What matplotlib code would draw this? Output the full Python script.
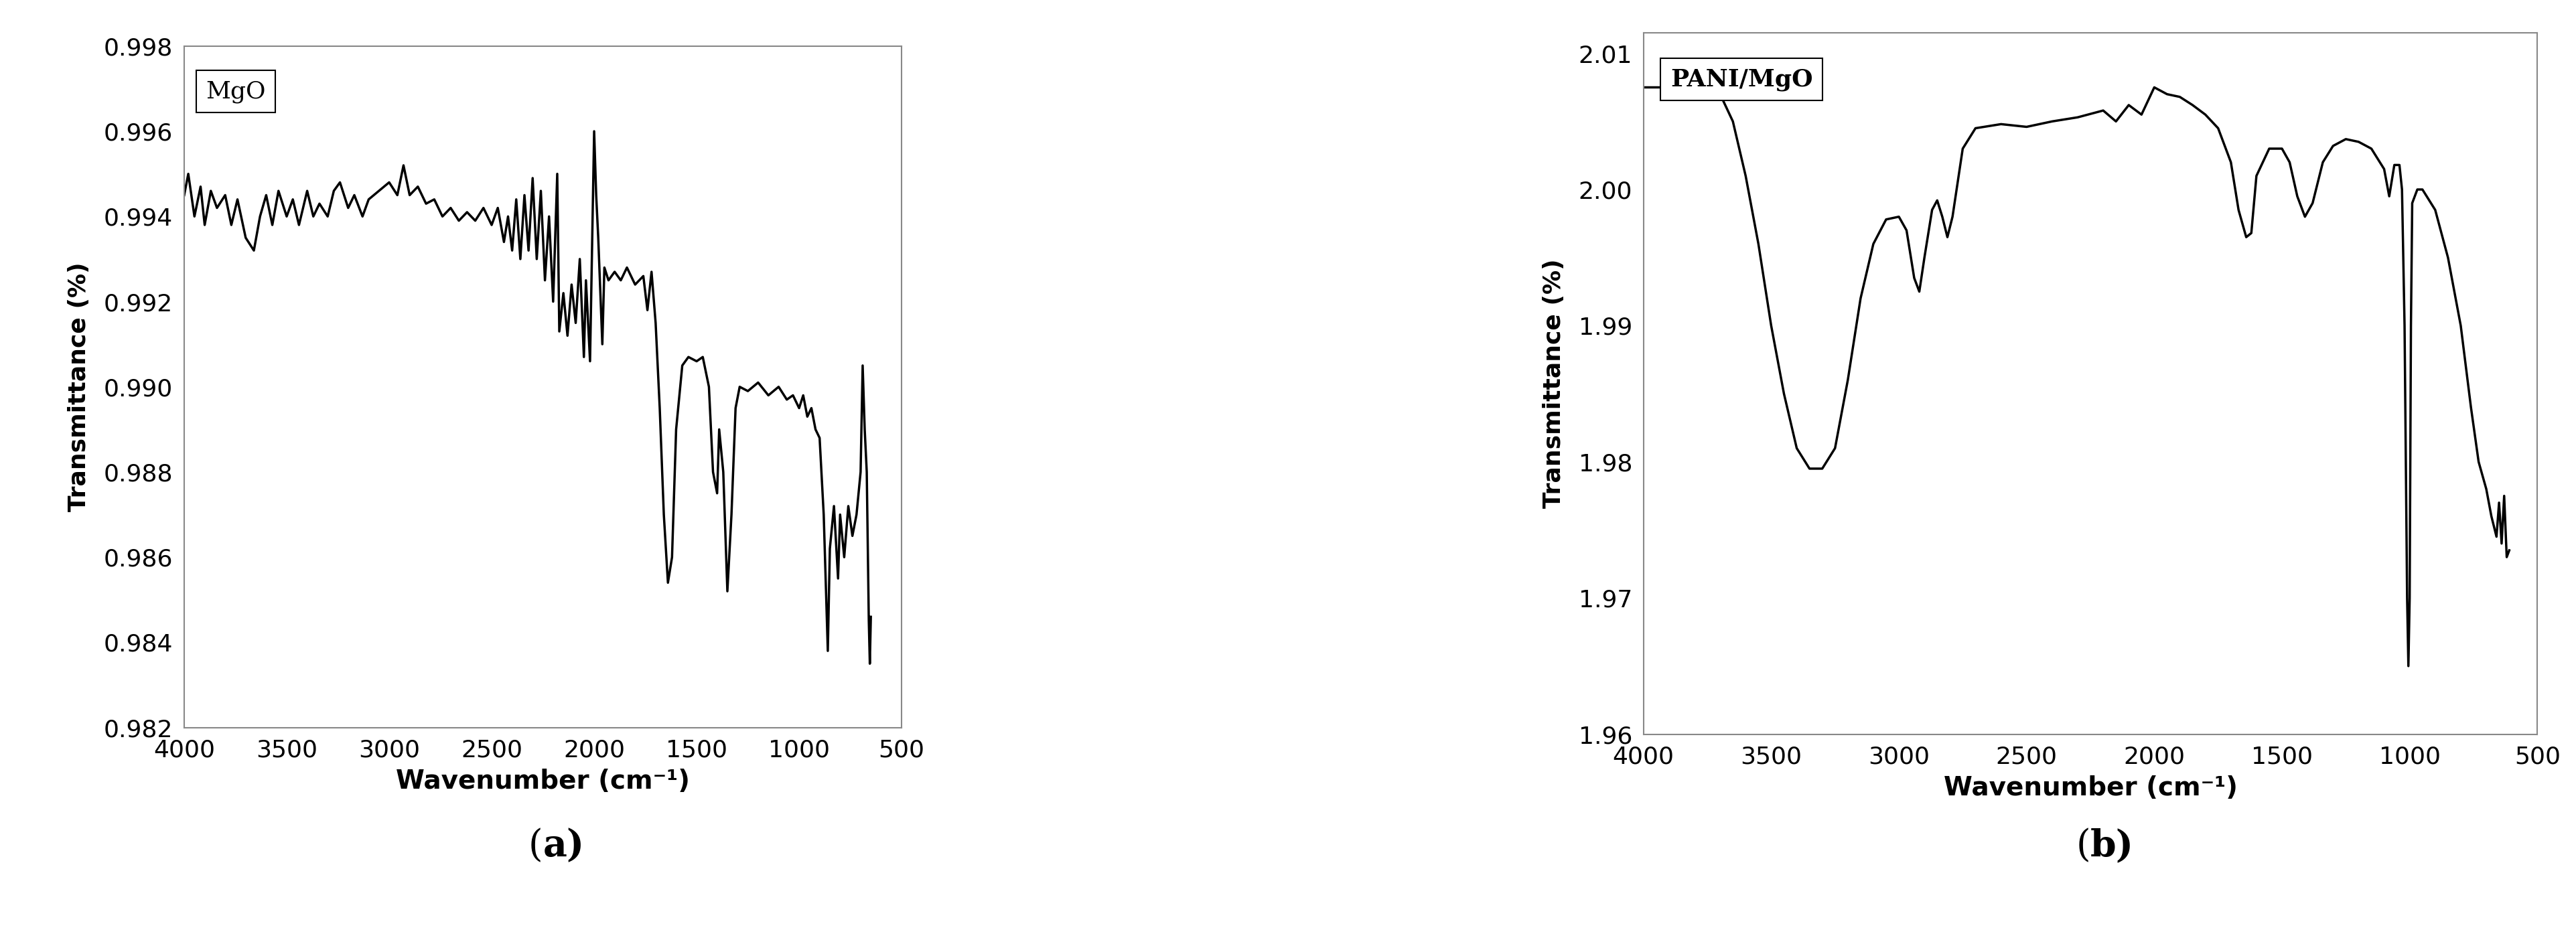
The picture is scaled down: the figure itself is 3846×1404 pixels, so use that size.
import matplotlib
matplotlib.use("Agg")
import matplotlib.pyplot as plt

mgo_x = [4000,3980,3950,3920,3900,3870,3840,3800,3770,3740,3700,3660,3630,3600,3570,3540,3500,3470,3440,3400,3370,3340,3300,3270,3240,3200,3170,3130,3100,3050,3000,2960,2930,2900,2860,2820,2780,2740,2700,2660,2620,2580,2540,2500,2470,2440,2420,2400,2380,2360,2340,2320,2300,2280,2260,2240,2220,2200,2180,2170,2150,2130,2110,2090,2070,2050,2040,2020,2000,1990,1980,1960,1950,1930,1900,1870,1840,1800,1760,1740,1720,1700,1680,1660,1640,1620,1600,1570,1540,1500,1470,1440,1420,1400,1390,1370,1350,1330,1310,1290,1250,1200,1150,1100,1060,1030,1000,980,960,940,920,900,880,860,850,830,810,800,780,760,740,720,700,690,680,670,660,655,650]
mgo_y = [0.9945,0.9950,0.9940,0.9947,0.9938,0.9946,0.9942,0.9945,0.9938,0.9944,0.9935,0.9932,0.9940,0.9945,0.9938,0.9946,0.9940,0.9944,0.9938,0.9946,0.9940,0.9943,0.9940,0.9946,0.9948,0.9942,0.9945,0.9940,0.9944,0.9946,0.9948,0.9945,0.9952,0.9945,0.9947,0.9943,0.9944,0.9940,0.9942,0.9939,0.9941,0.9939,0.9942,0.9938,0.9942,0.9934,0.9940,0.9932,0.9944,0.9930,0.9945,0.9932,0.9949,0.9930,0.9946,0.9925,0.9940,0.9920,0.9950,0.9913,0.9922,0.9912,0.9924,0.9915,0.9930,0.9907,0.9925,0.9906,0.9960,0.9945,0.9935,0.9910,0.9928,0.9925,0.9927,0.9925,0.9928,0.9924,0.9926,0.9918,0.9927,0.9915,0.9895,0.9870,0.9854,0.9860,0.9890,0.9905,0.9907,0.9906,0.9907,0.9900,0.9880,0.9875,0.9890,0.9880,0.9852,0.9870,0.9895,0.9900,0.9899,0.9901,0.9898,0.9900,0.9897,0.9898,0.9895,0.9898,0.9893,0.9895,0.9890,0.9888,0.9870,0.9838,0.9862,0.9872,0.9855,0.9870,0.9860,0.9872,0.9865,0.9870,0.9880,0.9905,0.9890,0.9880,0.9845,0.9835,0.9846]

pani_x = [4000,3800,3750,3720,3700,3650,3600,3550,3500,3450,3400,3350,3300,3250,3200,3150,3100,3050,3000,2970,2940,2920,2900,2870,2850,2830,2810,2790,2750,2700,2600,2500,2400,2300,2200,2150,2100,2050,2000,1950,1900,1850,1800,1750,1700,1670,1640,1620,1600,1550,1500,1470,1440,1410,1380,1340,1300,1250,1200,1150,1100,1080,1060,1040,1030,1020,1010,1005,1000,995,990,970,950,900,850,800,760,730,700,680,660,650,640,630,620,610]
pani_y = [2.0075,2.0075,2.0082,2.0078,2.0070,2.0050,2.0010,1.9960,1.9900,1.9850,1.9810,1.9795,1.9795,1.9810,1.9860,1.9920,1.9960,1.9978,1.9980,1.9970,1.9935,1.9925,1.9950,1.9985,1.9992,1.9980,1.9965,1.9980,2.0030,2.0045,2.0048,2.0046,2.0050,2.0053,2.0058,2.0050,2.0062,2.0055,2.0075,2.0070,2.0068,2.0062,2.0055,2.0045,2.0020,1.9985,1.9965,1.9968,2.0010,2.0030,2.0030,2.0020,1.9995,1.9980,1.9990,2.0020,2.0032,2.0037,2.0035,2.0030,2.0015,1.9995,2.0018,2.0018,2.0000,1.9900,1.9700,1.9650,1.9700,1.9900,1.9990,2.0000,2.0000,1.9985,1.9950,1.9900,1.9840,1.9800,1.9780,1.9760,1.9745,1.9770,1.9740,1.9775,1.9730,1.9735]

x_ticks = [4000,3500,3000,2500,2000,1500,1000,500]
mgo_ticks = [0.982,0.984,0.986,0.988,0.990,0.992,0.994,0.996,0.998]
pani_ticks = [1.96,1.97,1.98,1.99,2.00,2.01]

fig = plt.figure(figsize=(38.46, 14.04), dpi=100)
TS = 26
for (rect, xs, ys, yt, ylim, fmt, label, lfam, lw, panel) in [
    ([0.0715, 0.226, 0.2785, 0.725], mgo_x, mgo_y, mgo_ticks, (0.982, 0.998), "%.3f", "MgO", "DejaVu Serif", "normal", "a"),
    ([0.638, 0.219, 0.347, 0.746], pani_x, pani_y, pani_ticks, (1.96, 2.0115), "%.2f", "PANI/MgO", "DejaVu Serif", "bold", "b"),
]:
    ax = fig.add_axes(rect)
    ax.plot(xs, ys, color="black", lw=2.5)
    ax.set_xlim(4000, 500)
    ax.set_ylim(*ylim)
    ax.set_xticks(x_ticks)
    ax.set_yticks(yt)
    ax.set_yticklabels([fmt % v for v in yt])
    ax.tick_params(labelsize=TS, length=0, pad=12)
    for s in ax.spines.values():
        s.set_color("#888888"); s.set_linewidth(1.5)
    ax.set_xlabel("Wavenumber (cm\u207b\u00b9)", fontsize=TS + 2, fontweight="bold", labelpad=8)
    ax.set_ylabel("Transmittance (%)", fontsize=TS, fontweight="bold", labelpad=14)
    ax.text(0.03, 0.95, label, transform=ax.transAxes, fontsize=TS, family=lfam,
            fontweight=lw, va="top", ha="left",
            bbox=dict(boxstyle="square,pad=0.4", fc="white", ec="black", lw=1.5))
    cx = rect[0] + rect[2] / 2
    fig.text(cx, 0.10, "(", fontsize=TS + 14, family="DejaVu Serif", ha="right", va="center")
    fig.text(cx, 0.10, panel + ")", fontsize=TS + 14, family="DejaVu Serif", ha="left", va="center", fontweight="bold")

fig.savefig("out.png", dpi=100, facecolor="white")
